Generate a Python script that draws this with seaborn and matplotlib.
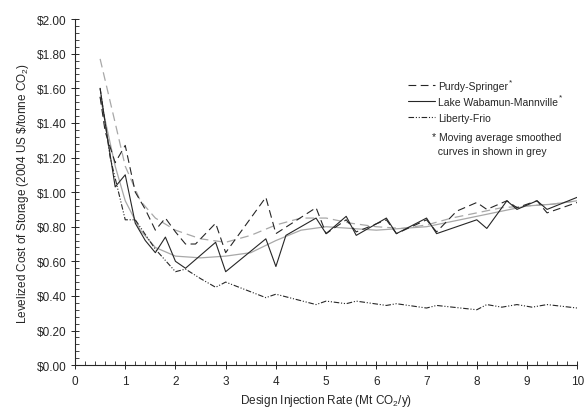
import matplotlib
matplotlib.use("Agg")
import matplotlib.pyplot as plt
import seaborn as sns
import pandas as pd
import numpy as np
from matplotlib.ticker import MultipleLocator, FuncFormatter
from matplotlib.lines import Line2D

# ---- data ----
lake_x = [0.5, 0.6, 0.8, 1.0, 1.2, 1.4, 1.6, 1.8, 2.0, 2.2, 2.8, 3.0, 3.8, 4.0, 4.2, 4.8, 5.0,
          5.4, 5.6, 6.2, 6.4, 7.0, 7.2, 8.0, 8.2, 8.6, 8.8, 9.2, 9.4, 10.0]
lake_y = [1.60, 1.40, 1.03, 1.10, 0.82, 0.72, 0.65, 0.74, 0.60, 0.56, 0.71, 0.54, 0.73, 0.57, 0.75, 0.85, 0.76,
          0.86, 0.75, 0.85, 0.76, 0.85, 0.76, 0.84, 0.79, 0.95, 0.90, 0.95, 0.90, 0.97]

purdy_x = [0.5, 0.6, 0.8, 1.0, 1.2, 1.4, 1.6, 1.8, 2.0, 2.2, 2.4, 2.8, 3.0, 3.8, 4.0, 4.8, 5.0,
           5.4, 5.6, 6.2, 6.4, 7.0, 7.2, 7.6, 8.0, 8.2, 8.6, 8.8, 9.2, 9.4, 10.0]
purdy_y = [1.55, 1.35, 1.17, 1.27, 1.00, 0.90, 0.78, 0.85, 0.77, 0.70, 0.70, 0.82, 0.65, 0.97, 0.76, 0.91, 0.76,
           0.84, 0.77, 0.84, 0.76, 0.84, 0.77, 0.89, 0.94, 0.90, 0.95, 0.91, 0.95, 0.88, 0.94]

liberty_x = [0.5, 0.7, 1.0, 1.2, 1.6, 2.0, 2.2, 2.5, 2.8, 3.0, 3.8, 4.0, 4.8, 5.0, 5.4, 5.6, 6.2, 6.4,
             7.0, 7.2, 8.0, 8.2, 8.5, 8.8, 9.1, 9.4, 10.0]
liberty_y = [1.60, 1.20, 0.84, 0.84, 0.67, 0.54, 0.555, 0.50, 0.45, 0.48, 0.39, 0.41, 0.35, 0.37, 0.355, 0.37, 0.345, 0.355,
             0.33, 0.345, 0.32, 0.35, 0.335, 0.35, 0.335, 0.35, 0.33]

smooth_x = [0.5, 0.8, 1.0, 1.3, 1.6, 2.0, 2.5, 3.0, 3.5, 4.0, 4.5, 5.0, 5.5, 6.0, 6.5, 7.0, 7.5, 8.0, 8.5, 9.0, 9.5, 10.0]
purdy_smooth_y = [1.77, 1.40, 1.15, 0.95, 0.85, 0.78, 0.73, 0.71, 0.75, 0.81, 0.85, 0.85, 0.82, 0.80, 0.79, 0.81,
                  0.85, 0.88, 0.91, 0.92, 0.93, 0.95]
lake_smooth_y = [1.55, 1.15, 0.95, 0.78, 0.68, 0.63, 0.62, 0.63, 0.65, 0.72, 0.78, 0.80, 0.79, 0.78, 0.79, 0.80,
                 0.83, 0.86, 0.89, 0.92, 0.93, 0.95]

labels = ["Purdy-Springer", "Lake Wabamun-Mannville", "Liberty-Frio"]
smoothed = [True, True, False]

# ---- style ----
sns.set_style("ticks")
plt.rcParams["font.family"] = ["Liberation Sans", "DejaVu Sans"]
plt.rcParams["mathtext.fontset"] = "custom"
plt.rcParams["mathtext.rm"] = "Liberation Sans"

fig = plt.figure(figsize=(5.86, 4.10), dpi=100)
ax = fig.add_axes([0.128, 0.107, 0.857, 0.844])

ink = "#262626"
grey = "#a8a8a8"
dash = (0, (7, 4))
dashdotdot = (0, (5, 1.6, 1, 1.6, 1, 1.6))

df_ps = pd.DataFrame({"x": smooth_x, "y": purdy_smooth_y})
df_ls = pd.DataFrame({"x": smooth_x, "y": lake_smooth_y})
sns.lineplot(data=df_ps, x="x", y="y", ax=ax, color=grey, lw=0.9, linestyle=dash, sort=False)
sns.lineplot(data=df_ls, x="x", y="y", ax=ax, color=grey, lw=0.9, sort=False)

df_p = pd.DataFrame({"x": purdy_x, "y": purdy_y})
df_l = pd.DataFrame({"x": lake_x, "y": lake_y})
df_f = pd.DataFrame({"x": liberty_x, "y": liberty_y})
sns.lineplot(data=df_p, x="x", y="y", ax=ax, color=ink, lw=0.8, linestyle=dash, sort=False)
sns.lineplot(data=df_l, x="x", y="y", ax=ax, color=ink, lw=0.8, sort=False)
sns.lineplot(data=df_f, x="x", y="y", ax=ax, color=ink, lw=0.8, linestyle=dashdotdot, sort=False)

ax.set_xlim(0, 10)
ax.set_ylim(0, 2.0)
ax.xaxis.set_major_locator(MultipleLocator(1))
ax.xaxis.set_minor_locator(MultipleLocator(0.2))
ax.yaxis.set_major_locator(MultipleLocator(0.2))
ax.yaxis.set_minor_locator(MultipleLocator(0.04))
ax.yaxis.set_major_formatter(FuncFormatter(lambda v, p: "$%.2f" % v))
ax.xaxis.set_major_formatter(FuncFormatter(lambda v, p: "%d" % round(v)))

for s in ["top", "right"]:
    ax.spines[s].set_visible(False)
for s in ["left", "bottom"]:
    ax.spines[s].set_linewidth(0.8)
    ax.spines[s].set_color(ink)

ax.tick_params(axis="both", which="major", direction="inout", length=6, width=0.7,
               labelsize=8.5, colors=ink, pad=3)
ax.tick_params(axis="both", which="minor", direction="in", length=3, width=0.6, colors=ink)
ax.tick_params(axis="x", which="major", pad=4)

ax.set_xlabel(r"Design Injection Rate (Mt CO$_\mathregular{2}$/y)", fontsize=8.5, color=ink, labelpad=4)
ax.set_ylabel(r"Levelized Cost of Storage (2004 US \$/tonne CO$_\mathregular{2}$)", fontsize=8.5,
              color=ink, labelpad=4)

handles = [Line2D([], [], color=ink, lw=0.8, linestyle=dash),
           Line2D([], [], color=ink, lw=0.8),
           Line2D([], [], color=ink, lw=0.8, linestyle=dashdotdot)]
leg = ax.legend(handles, labels, loc="upper left", bbox_to_anchor=(0.655, 0.833), frameon=False,
                fontsize=7.5, handlelength=2.6, handletextpad=0.3, labelspacing=0.55, borderaxespad=0,
                labelcolor=ink)

fig.canvas.draw()
renderer = fig.canvas.get_renderer()
inv = fig.transFigure.inverted()
for txt, sm in zip(leg.get_texts(), smoothed):
    if sm:
        bb = txt.get_window_extent(renderer)
        x0, y0 = inv.transform((bb.x1 + 1, bb.y1 + 3))
        fig.text(x0, y0, "*", fontsize=6, color=ink, ha="left", va="top")

ax.text(0.711, 0.675, "* Moving average smoothed\n  curves in shown in grey", transform=ax.transAxes,
        fontsize=7.5, color=ink, va="top", ha="left", linespacing=1.55)

fig.savefig("out.png", dpi=100)
